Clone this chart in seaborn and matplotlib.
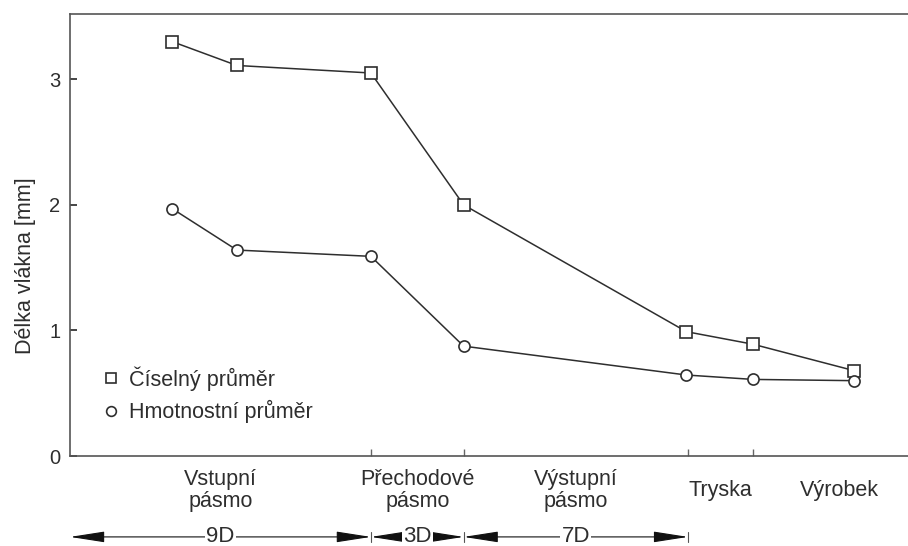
import numpy as np
import matplotlib
matplotlib.use("Agg")
import matplotlib.pyplot as plt
import matplotlib.transforms as mtransforms
import seaborn as sns

# --- data (x in units of D along the machine, y = fibre length in mm) ---
pos = [3.14, 5.13, 9.25, 12.1, 18.95, 21.0, 24.1]
ciselny = [3.30, 3.11, 3.05, 2.00, 0.99, 0.89, 0.68]
hmotnostni = [1.97, 1.64, 1.59, 0.875, 0.645, 0.61, 0.60]

zone_edges = [0, 9.25, 12.1, 19.0, 21.0, 26.3]
zone_names = ["Vstupní\npásmo", "Přechodové\npásmo", "Výstupní\npásmo", "Tryska", "Výrobek"]
dim_labels = ["9D", "3D", "7D"]

sns.set_theme(style="ticks")
plt.rcParams["font.family"] = ["Liberation Sans", "DejaVu Sans"]

ink = "#2e2e2e"
fig = plt.figure(figsize=(9.08, 5.46), dpi=100)
ax = fig.add_axes([0.0771, 0.1648, 0.9229, 0.8096])

sns.lineplot(x=pos, y=ciselny, ax=ax, color=ink, lw=1.1, marker="s", ms=8,
             mfc="white", mec=ink, mew=1.2, label="Číselný průměr")
sns.lineplot(x=pos, y=hmotnostni, ax=ax, color=ink, lw=1.1, marker="o", ms=8,
             mfc="white", mec=ink, mew=1.2, label="Hmotnostní průměr")

ax.set_xlim(0, 25.76)
ax.set_ylim(0, 3.52)
ax.set_yticks([0, 1, 2, 3])
ax.tick_params(axis="y", direction="in", length=5, labelsize=14.5, colors=ink, pad=7)
ax.set_ylabel("Délka vlákna [mm]", fontsize=15.5, color=ink)
ax.yaxis.set_label_coords(-0.04, 0.43)

# zone labels between boundaries, boundary marks as minor ticks
mids = [(a + b) / 2 for a, b in zip(zone_edges[:-1], zone_edges[1:])]
ax.set_xticks(mids)
ax.set_xticklabels(zone_names, fontsize=15.5, color=ink, va="center", linespacing=1.05)
ax.set_xticks(zone_edges[1:5], minor=True)
ax.tick_params(axis="x", which="major", length=0, pad=25)
ax.tick_params(axis="x", which="minor", direction="in", length=5, color="#666666")

for s in ["left", "bottom", "top"]:
    ax.spines[s].set_color("#555555")
    ax.spines[s].set_linewidth(1.2)
ax.spines["right"].set_visible(False)

leg = ax.legend(loc="upper left", bbox_to_anchor=(0.027, 0.223), frameon=False,
                fontsize=15.5, handlelength=0.9, handletextpad=0.4,
                labelspacing=0.45, borderaxespad=0)
for h in leg.legend_handles:
    h.set_linestyle("none")
    h.set_markersize(7)
for t in leg.get_texts():
    t.set_color(ink)

# dimension line below the axis
trans = mtransforms.blended_transform_factory(ax.transData, ax.transAxes)
ydim = -0.183
for a, b, lab in zip(zone_edges[:3], zone_edges[1:4], dim_labels):
    ax.annotate("", xy=(a, ydim), xytext=(b, ydim), xycoords=trans, textcoords=trans,
                annotation_clip=False,
                arrowprops=dict(arrowstyle="<|-|>,head_length=1.8,head_width=0.28",
                                color="#111111", lw=0.8, shrinkA=0, shrinkB=0))
    ax.text((a + b) / 2, ydim, lab, transform=trans, ha="center", va="center",
            fontsize=16, color=ink, clip_on=False,
            bbox=dict(boxstyle="square,pad=0.05", fc="white", ec="none"))
for e in zone_edges[1:4]:
    ax.plot([e, e], [ydim - 0.012, ydim + 0.012], transform=trans, color="#555555",
            lw=0.8, clip_on=False)

fig.savefig("out.png", dpi=100)
